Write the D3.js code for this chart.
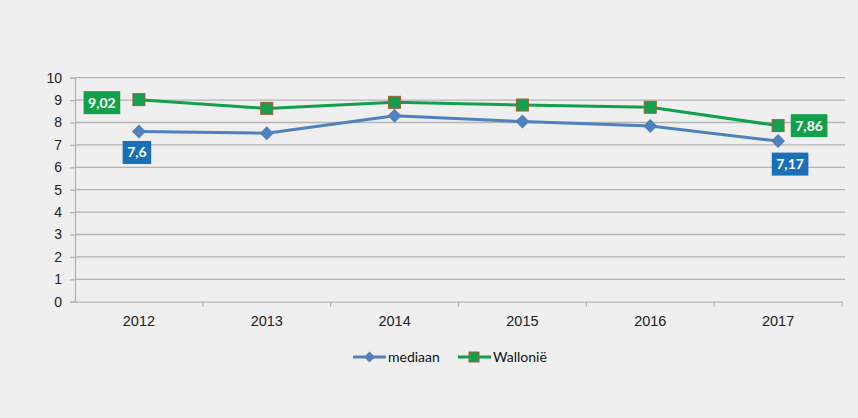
<!DOCTYPE html>
<html><head><meta charset="utf-8">
<script src="https://cdn.jsdelivr.net/npm/d3@7"></script>
<style>body{margin:0;background:#efefef;}svg{display:block;font-family:Lato,"Open Sans",sans-serif;}</style>
</head><body>
<svg id="c" width="858" height="418"></svg>
<script>
const years = ["2012","2013","2014","2015","2016","2017"];
const mediaan = [7.6, 7.52, 8.3, 8.04, 7.84, 7.17];
const wallonie = [9.02, 8.63, 8.9, 8.78, 8.68, 7.86];
const yTicks = [0,1,2,3,4,5,6,7,8,9,10];
const seriesNames = ["mediaan","Wallonië"];

const svg = d3.select("#c");
svg.append("rect").attr("width",858).attr("height",418).attr("fill","#efefef");
const L=75, R=842, T=77.7, B=301.7;
const x = d3.scaleBand().domain(years).range([L,R]);
const y = d3.scaleLinear().domain([0,10]).range([B,T]);
const blue="#4f81bd", green="#12a04c", blueBox="#1a70b8";

// gridlines
svg.append("g").selectAll("line").data(yTicks.filter(d=>d>0)).join("line")
 .attr("x1",L).attr("x2",R+3).attr("y1",d=>y(d)).attr("y2",d=>y(d))
 .attr("stroke","#b4b4b4").attr("stroke-width",1.3);

// y axis
const ya = svg.append("g").attr("transform",`translate(${L},0)`).call(d3.axisLeft(y).tickValues(yTicks).tickSize(5).tickPadding(8).tickFormat(d3.format("d")));
ya.select(".domain").attr("stroke","#b4b4b4").attr("stroke-width",1.3);
ya.selectAll(".tick line").attr("stroke","#b4b4b4").attr("stroke-width",1.3);
ya.selectAll("text").attr("font-size",14).attr("fill","#222");

// x axis
const xa = svg.append("g").attr("transform",`translate(0,${B})`).call(d3.axisBottom(x).tickSize(0).tickPadding(14));
xa.select(".domain").attr("stroke","#b4b4b4").attr("stroke-width",1.3);
xa.selectAll("text").attr("font-size",14.5).attr("fill","#222");
// boundary ticks
svg.append("g").selectAll("line").data(years.slice(1).concat(["end"])).join("line")
 .attr("x1",(d,i)=> i<years.length-1 ? x(d) : R).attr("x2",(d,i)=> i<years.length-1 ? x(d) : R)
 .attr("y1",B).attr("y2",B+5).attr("stroke","#b4b4b4").attr("stroke-width",1.3);

const cx = d=>x(d)+x.bandwidth()/2;
const line = d3.line().x((d,i)=>cx(years[i])).y(d=>y(d));

svg.append("path").datum(mediaan).attr("d",line).attr("fill","none").attr("stroke",blue).attr("stroke-width",3);
svg.append("path").datum(wallonie).attr("d",line).attr("fill","none").attr("stroke",green).attr("stroke-width",3);

const dia = r => `M0,${-r}L${r},0L0,${r}L${-r},0Z`;
svg.append("g").selectAll("path").data(mediaan).join("path")
 .attr("d",dia(7)).attr("transform",(d,i)=>`translate(${cx(years[i])},${y(d)})`).attr("fill",blue);
svg.append("g").selectAll("rect").data(wallonie).join("rect")
 .attr("x",(d,i)=>cx(years[i])-6).attr("y",d=>y(d)-6).attr("width",12).attr("height",12)
 .attr("fill",green).attr("stroke","#a0603a").attr("stroke-width",1);

// data labels
const fmt = v => String(v).replace(".",",");
function label(v, i, color, dx, dy){
  const px = cx(years[i])+dx, py = y(v)+dy;
  const g = svg.append("g");
  const t = g.append("text").attr("x",px).attr("y",py+5).attr("text-anchor","middle")
   .attr("font-size",14).attr("font-weight","bold").attr("fill","#fff").text(fmt(v));
  const w = t.node().getComputedTextLength()+9;
  g.insert("rect","text").attr("x",px-w/2).attr("y",py-11.5).attr("width",w).attr("height",23).attr("fill",color);
}
label(wallonie[0],0,green,-37,3);
label(mediaan[0],0,blueBox,-2,21);
label(wallonie[5],5,green,31,0);
label(mediaan[5],5,blueBox,12,23);

// legend
const lg = svg.append("g");
lg.append("line").attr("x1",353).attr("x2",386).attr("y1",357).attr("y2",357).attr("stroke",blue).attr("stroke-width",3);
lg.append("path").attr("d",dia(5.5)).attr("transform","translate(369.5,357)").attr("fill",blue);
lg.append("text").attr("x",388).attr("y",362).attr("font-size",14).attr("fill","#111").text(seriesNames[0]);
lg.append("line").attr("x1",458).attr("x2",491).attr("y1",357).attr("y2",357).attr("stroke",green).attr("stroke-width",3);
lg.append("rect").attr("x",469).attr("y",352).attr("width",10).attr("height",10).attr("fill",green).attr("stroke","#a0603a");
lg.append("text").attr("x",493).attr("y",362).attr("font-size",14).attr("fill","#111").text(seriesNames[1]);
</script>
</body></html>
